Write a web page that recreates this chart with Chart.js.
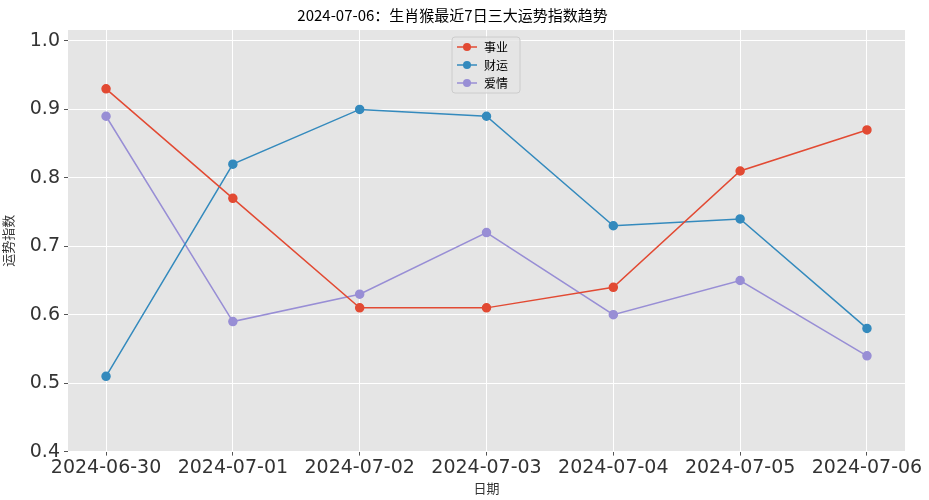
<!DOCTYPE html>
<html><head><meta charset="utf-8">
<script src="https://cdn.jsdelivr.net/npm/chart.js@4"></script>
<style>html,body{margin:0;background:#fff}#wrap{width:929px;height:500px}</style>
</head><body><div id="wrap"><canvas id="c"></canvas></div>
<script>
const dates = ['2024-06-30','2024-07-01','2024-07-02','2024-07-03','2024-07-04','2024-07-05','2024-07-06'];
const career = [0.93,0.77,0.61,0.61,0.64,0.81,0.87];
const wealth = [0.51,0.82,0.90,0.89,0.73,0.74,0.58];
const love = [0.89,0.59,0.63,0.72,0.60,0.65,0.54];
const seriesNames = ['事业','财运','爱情'];
const colors = ['#E24A33','#348ABD','#988ED5'];
const yTicks = [0.4,0.5,0.6,0.7,0.8,0.9,1.0];

const font = '"Noto Sans CJK SC", "DejaVu Sans", sans-serif';
const mk = (arr, i) => ({
  label: seriesNames[i], data: arr.map((v, k) => ({x: k, y: v})),
  borderColor: colors[i], backgroundColor: colors[i], borderWidth: 1.5,
  pointRadius: 4, pointHoverRadius: 4, tension: 0
});

const bgPlugin = {
  id: 'bg',
  beforeDraw(chart) {
    const {ctx, chartArea: a} = chart;
    ctx.save(); ctx.fillStyle = '#E5E5E5';
    ctx.fillRect(a.left, a.top, a.right - a.left, a.bottom - a.top); ctx.restore();
  },
  afterDatasetsDraw(chart) {
    const ctx = chart.ctx;
    const x = 452, y = 37, w = 68, h = 56;
    ctx.save();
    ctx.fillStyle = 'rgba(229,229,229,0.8)'; ctx.strokeStyle = '#cccccc';
    ctx.beginPath(); ctx.roundRect(x, y, w, h, 3); ctx.fill(); ctx.stroke();
    chart.data.datasets.forEach((d, i) => {
      const cy = y + 10 + i * 18;
      ctx.strokeStyle = d.borderColor; ctx.lineWidth = 1.5;
      ctx.beginPath(); ctx.moveTo(x + 5, cy); ctx.lineTo(x + 25, cy); ctx.stroke();
      ctx.fillStyle = d.borderColor;
      ctx.beginPath(); ctx.arc(x + 15, cy, 4, 0, Math.PI * 2); ctx.fill();
      ctx.fillStyle = '#000'; ctx.font = '12px ' + font; ctx.textBaseline = 'middle';
      ctx.fillText(d.label, x + 32, cy);
    });
    ctx.restore();
  }
};

new Chart(document.getElementById('c'), {
  type: 'line',
  data: { datasets: [mk(career, 0), mk(wealth, 1), mk(love, 2)] },
  options: {
    responsive: true, maintainAspectRatio: false, animation: false,
    layout: { padding: { top: 0, right: 24, left: 0, bottom: 4 } },
    plugins: {
      legend: { display: false }, tooltip: { enabled: false },
      title: { display: true, text: '2024-07-06：生肖猴最近7日三大运势指数趋势', color: '#000',
        font: { family: font, size: 15, weight: 'normal' }, padding: { top: 6, bottom: 6 } }
    },
    scales: {
      x: {
        type: 'linear', min: -0.3, max: 6.3,
        afterBuildTicks: s => { s.ticks = dates.map((d, i) => ({value: i})); },
        ticks: { callback: v => dates[v], color: '#333', font: { family: '"DejaVu Sans", sans-serif', size: 19 }, maxRotation: 0, padding: 1 },
        grid: { color: '#fff', lineWidth: 1, drawTicks: true, tickLength: 4, tickColor: '#555' },
        border: { display: false },
        title: { display: true, text: '日期', color: '#333', font: { family: font, size: 13 }, padding: 0 }
      },
      y: {
        min: 0.4, max: 1.016,
        afterBuildTicks: s => { s.ticks = yTicks.map(v => ({value: v})); },
        afterFit: s => { s.width = 68; },
        ticks: { callback: v => v.toFixed(1), color: '#333', font: { family: '"DejaVu Sans", sans-serif', size: 19 }, padding: 4 },
        grid: { color: '#fff', lineWidth: 1, tickLength: 4, tickColor: '#555' },
        border: { display: false },
        title: { display: true, text: '运势指数', color: '#333', font: { family: font, size: 13 }, padding: 0 }
      }
    }
  },
  plugins: [bgPlugin]
});
</script></body></html>
